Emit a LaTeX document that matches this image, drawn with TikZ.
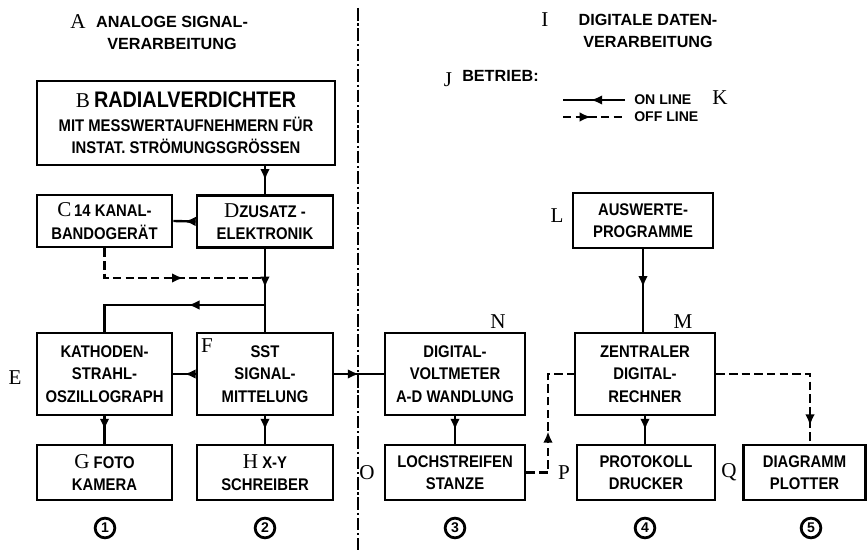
\documentclass[tikz,border=0pt]{standalone}
\usepackage{fontspec}
\setmainfont{Liberation Sans}
\newfontfamily\lblfont{Liberation Serif}
\newfontfamily\boxfam{Liberation Sans}[FakeStretch=0.88]
\usetikzlibrary{arrows.meta,positioning,decorations.markings}
\newcommand{\boxfont}{\boxfam\bfseries\fontsize{12}{16}\selectfont}
\newcommand{\lbltxt}[1]{{\lblfont\mdseries\fontsize{15}{15}\selectfont #1}}
\tikzset{
  box/.style={draw=black,line width=2pt,align=center,inner sep=2pt,minimum width=3.4cm,minimum height=2.05cm,font=\boxfont},
  lowbox/.style={box,minimum height=1.375cm},
  lbl/.style={font=\lblfont\fontsize{15}{15}\selectfont,inner sep=0pt},
  head/.style={align=center,font=\bfseries\fontsize{11.5}{16}\selectfont,inner sep=0pt},
  legtext/.style={anchor=west,font=\bfseries\fontsize{10}{12}\selectfont,inner sep=0pt},
  num/.style={circle,draw=black,line width=2pt,minimum size=14pt,inner sep=0pt,font=\bfseries\fontsize{10}{10}\selectfont},
  link/.style={line width=1.7pt,draw=black},
  offlink/.style={link,dash pattern=on 6pt off 3pt},
  midarrow/.style={postaction={decorate},decoration={markings,mark=at position #1 with {\arrow{Latex[length=2.8mm,width=2.4mm]}}}},
  midarrow/.default=0.5,
  divider/.style={line width=1.4pt,dash pattern=on 9pt off 2pt on 1.5pt off 2pt}
}

\begin{document}
\begin{tikzpicture}[x=0.025cm,y=-0.025cm]
    \useasboundingbox (0,0) rectangle (868,550);
    \coordinate (divtop) at (358,8);
    \coordinate (divbot) at (358,550);
    \draw[divider] (divtop) -- (divbot);

    \node[lbl] (lA) at (78,22) {A};
    \node[head] (hA) at (172,33) {ANALOGE SIGNAL-\\VERARBEITUNG};
    \node[lbl] (lI) at (545,20) {I};
    \node[head] (hI) at (648,31) {DIGITALE DATEN-\\VERARBEITUNG};
    \node[lbl] (lJ) at (448,80) {J};
    \node[head,anchor=west] (betrieb) at (462,76) {BETRIEB:};
    \coordinate (onA) at (625,100);
    \coordinate (onB) at (563,100);
    \draw[link,midarrow=0.55] (onA) -- (onB);
    \node[legtext] (online) at (634,100) {ON LINE};
    \node[lbl] (lK) at (720,98) {K};
    \coordinate (offA) at (563,117);
    \coordinate (offB) at (625,117);
    \draw[offlink,midarrow=0.45] (offA) -- (offB);
    \node[legtext] (offline) at (634,117) {OFF LINE};

    \node[box,minimum width=7.45cm,minimum height=2.1cm] (radial) at (186,123) {\lbltxt{B}\ {\fontsize{16}{20}\selectfont RADIALVERDICHTER}\\[1pt]MIT MESSWERTAUFNEHMERN FÜR\\INSTAT. STRÖMUNGSGRÖSSEN};
    \node[lowbox,minimum width=3.375cm,minimum height=1.3cm] (band) at (104.5,221) {\lbltxt{C}\,14 KANAL-\\BANDOGERÄT};
    \node[lowbox,minimum height=1.3cm] (zusatz) at (265,221.5) {\lbltxt{D}ZUSATZ -\\ELEKTRONIK};
    \node[box,minimum width=3.375cm] (kathode) at (104.5,374) {KATHODEN-\\STRAHL-\\OSZILLOGRAPH};
    \node[lbl] (lE) at (15,378) {E};
    \node[box] (sst) at (265,374) {SST\\SIGNAL-\\MITTELUNG};
    \node[lbl] (lF) at (207,346) {F};
    \node[lowbox,minimum width=3.375cm] (foto) at (104.5,472.5) {\lbltxt{G} FOTO\\KAMERA};
    \node[lowbox] (xy) at (265,472.5) {\lbltxt{H} X-Y\\SCHREIBER};
    \node[box,minimum width=3.5cm] (dvm) at (455,374) {DIGITAL-\\VOLTMETER\\A-D WANDLUNG};
    \node[lbl] (lN) at (498,322) {N};
    \node[lowbox,minimum width=3.5cm] (stanze) at (455,472.5) {LOCHSTREIFEN\\STANZE};
    \node[lbl] (lO) at (367,473) {O};
    \node[lowbox,minimum width=3.5cm] (prog) at (643,220.5) {AUSWERTE-\\PROGRAMME};
    \node[lbl] (lL) at (557,216) {L};
    \node[box,minimum width=3.5cm] (rechner) at (645,374) {ZENTRALER\\DIGITAL-\\RECHNER};
    \node[lbl] (lM) at (683,322) {M};
    \node[lowbox,minimum width=3.45cm] (drucker) at (646,472.5) {PROTOKOLL\\DRUCKER};
    \node[lbl] (lP) at (564,473) {P};
    \node[lowbox,minimum width=3.05cm] (plotter) at (804.5,472.5) {DIAGRAMM\\PLOTTER};
    \node[lbl] (lQ) at (729,472) {Q};

    \node[num] (n1) at (105,528) {1};
    \node[num] (n2) at (265,528) {2};
    \node[num] (n3) at (455,528) {3};
    \node[num] (n4) at (645,528) {4};
    \node[num] (n5) at (811,528) {5};

    \coordinate (jd) at (265,278);
    \coordinate (je) at (265,305);
    \coordinate (pbend) at (548,472.5);
    \coordinate (qbend) at (810,374);
    \draw[link,midarrow] (radial.south -| zusatz) -- (zusatz.north);
    \draw[link,midarrow] (zusatz.west) -- (band.east);
    \draw[link,midarrow=0.47] (zusatz.south) -- (sst.north);
    \draw[offlink,midarrow=0.57] (band.south) |- (jd);
    \draw[link,midarrow=0.41] (je) -| (kathode.north);
    \draw[link,midarrow] (sst.west) -- (kathode.east);
    \draw[link,midarrow] (kathode.south) -- (foto.north);
    \draw[link,midarrow] (sst.south) -- (xy.north);
    \draw[link,midarrow] (sst.east) -- (dvm.west);
    \draw[link,midarrow] (dvm.south) -- (stanze.north);
    \draw[offlink,midarrow=0.43] (stanze.east) -- (pbend) |- (rechner.west);
    \draw[link,midarrow=0.46] (prog.south) -- (prog.south |- rechner.north);
    \draw[link,midarrow] (rechner.south) -- (rechner.south |- drucker.north);
    \draw[offlink,midarrow=0.89] (rechner.east) -- (qbend) -- (qbend |- plotter.north);
  \end{tikzpicture}
\end{document}
